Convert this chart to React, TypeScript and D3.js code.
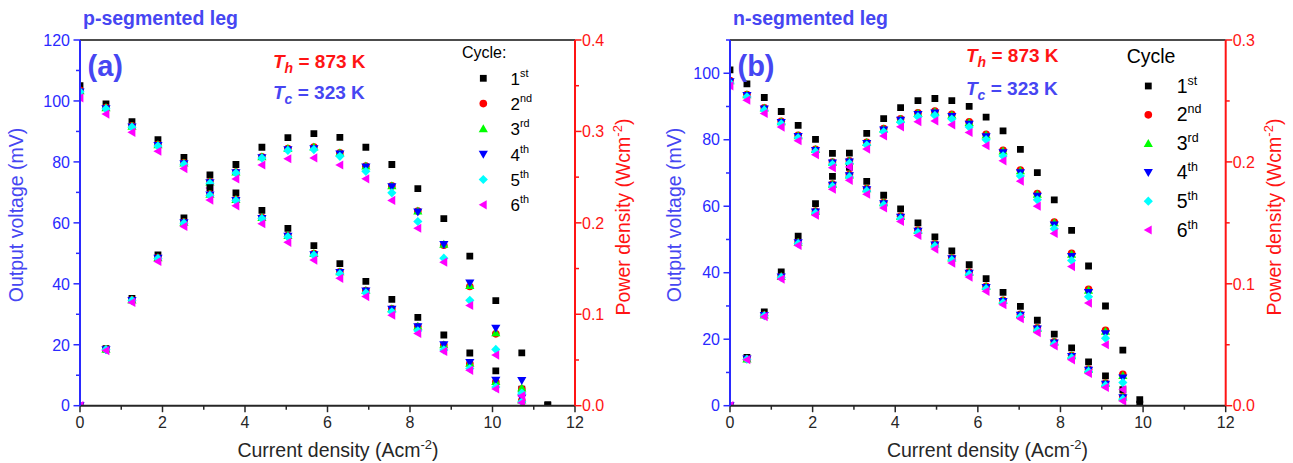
import React from "react";
import * as d3 from "d3";

const FONT = "'Liberation Sans', Arial, Helvetica, sans-serif";

// Legend entries and marker styles for the six thermal cycles
const cycleNumbers = ["1", "2", "3", "4", "5", "6"];
const cycleSuffixes = ["st", "nd", "rd", "th", "th", "th"];
const cycleColors = ["#000000", "#ff0000", "#00ff00", "#0000ff", "#00ffff", "#ff00ff"];
const cycleShapes = ["square", "circle", "triangleUp", "triangleDown", "diamond", "triangleLeft"];

// p-segmented leg: current density (A cm^-2)
const pCurrent = [0, 0.63, 1.26, 1.89, 2.52, 3.15, 3.78, 4.41, 5.04, 5.67, 6.3, 6.93, 7.56, 8.19, 8.82, 9.45, 10.08, 10.71, 11.34];
// output voltage (mV)
const pVoltage1 = [105.0, 99.0, 93.2, 87.3, 81.5, 75.7, 69.8, 64.1, 58.2, 52.5, 46.6, 40.8, 34.9, 29.0, 23.2, 17.3, 11.4, 5.4, 0.1];
const pVoltage2 = [103.5, 97.8, 91.8, 85.7, 79.7, 73.5, 67.6, 61.7, 55.8, 49.9, 43.9, 37.8, 31.8, 26.0, 19.9, 13.8, 7.8, 1.7];
const pVoltage3 = [103.3, 97.7, 91.7, 85.6, 79.6, 73.4, 67.6, 61.7, 55.8, 49.9, 43.9, 37.8, 31.8, 26.0, 20.0, 13.9, 7.9, 1.8];
const pVoltage4 = [103.0, 97.5, 91.5, 85.4, 79.4, 73.2, 67.4, 61.5, 55.6, 49.6, 43.7, 37.7, 31.7, 25.9, 20.0, 14.2, 8.4, 2.6];
const pVoltage5 = [103.0, 97.4, 91.4, 85.2, 79.2, 73.0, 67.3, 61.4, 55.4, 49.4, 43.3, 37.0, 30.8, 24.6, 18.3, 12.2, 6.1, 1.3];
const pVoltage6 = [101.0, 95.7, 89.7, 83.5, 77.8, 71.4, 65.6, 59.7, 53.6, 47.8, 41.8, 35.8, 29.7, 23.7, 17.8, 11.6, 5.5, 1.0];
// power density (W cm^-2)
const pPower1 = [0, 0.0624, 0.1174, 0.165, 0.2054, 0.2385, 0.2638, 0.2827, 0.2933, 0.2977, 0.2936, 0.2827, 0.2638, 0.2375, 0.2046, 0.1635, 0.1149, 0.0578, 0.0011];
const pPower2 = [0, 0.0616, 0.1157, 0.162, 0.2008, 0.2315, 0.2555, 0.2721, 0.2812, 0.2829, 0.2766, 0.262, 0.2404, 0.2129, 0.1755, 0.1304, 0.0786, 0.0182];
const pPower3 = [0, 0.0616, 0.1155, 0.1618, 0.2006, 0.2312, 0.2555, 0.2721, 0.2812, 0.2829, 0.2766, 0.262, 0.2404, 0.2129, 0.1764, 0.1314, 0.0796, 0.0193];
const pPower4 = [0, 0.0614, 0.1153, 0.1614, 0.2001, 0.2306, 0.2548, 0.2712, 0.2802, 0.2812, 0.2753, 0.2613, 0.2397, 0.2121, 0.1764, 0.1342, 0.0847, 0.0278];
const pPower5 = [0, 0.0614, 0.1152, 0.161, 0.1996, 0.23, 0.2544, 0.2708, 0.2792, 0.2801, 0.2728, 0.2564, 0.2328, 0.2015, 0.1614, 0.1153, 0.0615, 0.0139];
const pPower6 = [0, 0.0603, 0.113, 0.1578, 0.1961, 0.2249, 0.248, 0.2633, 0.2701, 0.271, 0.2633, 0.2481, 0.2245, 0.1941, 0.157, 0.1096, 0.0554, 0.0107];

// n-segmented leg: current density (A cm^-2)
const nCurrent = [0, 0.41, 0.83, 1.24, 1.65, 2.07, 2.48, 2.89, 3.31, 3.72, 4.13, 4.55, 4.96, 5.37, 5.79, 6.2, 6.61, 7.03, 7.44, 7.85, 8.27, 8.68, 9.09, 9.51, 9.92];
// output voltage (mV)
const nVoltage1 = [101.0, 96.8, 92.7, 88.5, 84.3, 80.1, 75.9, 71.7, 67.5, 63.3, 59.2, 55.0, 50.8, 46.6, 42.4, 38.2, 34.1, 29.9, 25.7, 21.5, 17.4, 13.2, 9.0, 4.8, 0.5];
const nVoltage2 = [97.8, 93.6, 89.6, 85.5, 81.3, 77.1, 73.3, 69.5, 65.3, 61.1, 57.0, 52.8, 48.7, 44.5, 40.2, 35.9, 31.7, 27.5, 23.4, 19.2, 15.1, 11.0, 6.8, 2.7];
const nVoltage3 = [97.7, 93.5, 89.5, 85.4, 81.2, 77.0, 73.2, 69.4, 65.2, 61.0, 56.9, 52.7, 48.6, 44.4, 40.1, 35.8, 31.6, 27.4, 23.3, 19.1, 15.0, 10.9, 6.7, 2.6];
const nVoltage4 = [97.5, 93.3, 89.3, 85.2, 81.0, 76.8, 73.0, 69.2, 65.0, 60.8, 56.7, 52.5, 48.4, 44.2, 39.9, 35.6, 31.4, 27.2, 23.1, 18.9, 14.8, 10.7, 6.5, 2.4];
const nVoltage5 = [97.1, 92.9, 88.9, 84.8, 80.6, 76.4, 72.6, 68.8, 64.6, 60.4, 56.3, 52.1, 48.0, 43.8, 39.5, 35.2, 31.0, 26.8, 22.7, 18.5, 14.4, 10.3, 6.1, 2.0];
const nVoltage6 = [96.2, 91.9, 87.9, 83.8, 79.7, 75.5, 71.6, 67.8, 63.6, 59.5, 55.4, 51.2, 47.1, 42.9, 38.7, 34.4, 30.4, 26.2, 22.0, 18.0, 13.8, 9.7, 5.5, 1.4];
// power density (W cm^-2)
const nPower1 = [0, 0.0397, 0.0769, 0.1097, 0.1391, 0.1658, 0.1882, 0.2072, 0.2234, 0.2355, 0.2445, 0.2503, 0.252, 0.2502, 0.2455, 0.2368, 0.2254, 0.2102, 0.1912, 0.1688, 0.1439, 0.1146, 0.0818, 0.0456, 0.005];
const nPower2 = [0, 0.0384, 0.0744, 0.106, 0.1341, 0.1596, 0.1818, 0.2009, 0.2161, 0.2273, 0.2354, 0.2402, 0.2416, 0.239, 0.2328, 0.2226, 0.2095, 0.1933, 0.1741, 0.1507, 0.1249, 0.0955, 0.0618, 0.0257];
const nPower3 = [0, 0.0383, 0.0743, 0.1059, 0.134, 0.1594, 0.1815, 0.2006, 0.2158, 0.2269, 0.235, 0.2398, 0.2411, 0.2384, 0.2322, 0.222, 0.2089, 0.1926, 0.1734, 0.1499, 0.1241, 0.0946, 0.0609, 0.0247];
const nPower4 = [0, 0.0383, 0.0741, 0.1056, 0.1337, 0.159, 0.181, 0.2, 0.2152, 0.2262, 0.2342, 0.2389, 0.2401, 0.2374, 0.231, 0.2207, 0.2076, 0.1912, 0.1719, 0.1484, 0.1224, 0.0929, 0.0591, 0.0228];
const nPower5 = [0, 0.0381, 0.0738, 0.1052, 0.133, 0.1581, 0.18, 0.1988, 0.2138, 0.2247, 0.2325, 0.2371, 0.2381, 0.2352, 0.2287, 0.2182, 0.2049, 0.1884, 0.1689, 0.1452, 0.1191, 0.0894, 0.0554, 0.019];
const nPower6 = [0, 0.0377, 0.073, 0.1039, 0.1315, 0.1563, 0.1776, 0.1959, 0.2105, 0.2213, 0.2288, 0.233, 0.2336, 0.2304, 0.2241, 0.2133, 0.2009, 0.1842, 0.1637, 0.1413, 0.1141, 0.0842, 0.05, 0.0133];

// Axis tick values
const currentMajorTicks = [0, 2, 4, 6, 8, 10, 12];
const currentMinorTicks = [1, 3, 5, 7, 9, 11];
const pVoltageMajorTicks = [0, 20, 40, 60, 80, 100, 120];
const pVoltageMinorTicks = [10, 30, 50, 70, 90, 110];
const pPowerMajorTicks = [0, 0.1, 0.2, 0.3, 0.4];
const pPowerMinorTicks = [0.05, 0.15, 0.25, 0.35];
const nVoltageMajorTicks = [0, 20, 40, 60, 80, 100];
const nVoltageMinorTicks = [10, 30, 50, 70, 90, 110];
const nPowerMajorTicks = [0, 0.1, 0.2, 0.3];
const nPowerMinorTicks = [0.05, 0.15, 0.25];

const BLUE_AXIS = "#2a2aff";
const BLUE_TEXT = "#4646f2";
const RED = "#ff1414";
const DARK = "#262626";

const markerPaths: Record<string, string> = {
  square: "M-3.4,-3.4H3.4V3.4H-3.4Z",
  circle: d3.symbol(d3.symbolCircle, 46)() as string,
  triangleUp: "M0,-4.6L4.6,3.4L-4.6,3.4Z",
  triangleDown: "M0,4.6L4.6,-3.4L-4.6,-3.4Z",
  diamond: "M0,-4.6L4.6,0L0,4.6L-4.6,0Z",
  triangleLeft: "M-4.6,0L3.4,-4.6L3.4,4.6Z",
};

type Series = { voltage: number[]; power: number[] };

interface PanelProps {
  id: string;
  left: number;
  right: number;
  top: number;
  bottom: number;
  current: number[];
  series: Series[];
  vMax: number;
  pMax: number;
  vMajor: number[];
  vMinor: number[];
  pMajor: number[];
  pMinor: number[];
  title: string;
  tag: string;
  tempX: number;
  thY: number;
  tcY: number;
  legendTitle: string;
  legendTitleX: number;
  legendTitleY: number;
  legendTitleSize: number;
  legendMarkerX: number;
  legendLabelX: number;
  legendY0: number;
  legendStep: number;
  legendSize: number;
  leftTitleX: number;
  rightTitleX: number;
  xTitleX: number;
}

function Panel(p: PanelProps) {
  const x = d3.scaleLinear().domain([0, 12]).range([p.left, p.right]);
  const yV = d3.scaleLinear().domain([0, p.vMax]).range([p.bottom, p.top]);
  const yP = d3.scaleLinear().domain([0, p.pMax]).range([p.bottom, p.top]);
  const fmtP = d3.format(".1f");
  const midY = 215;

  return (
    <g>
      <defs>
        <clipPath id={p.id}>
          <rect x={p.left} y={p.top} width={p.right - p.left} height={p.bottom - p.top} />
        </clipPath>
      </defs>

      {/* data markers: voltage sets first, then power sets */}
      <g clipPath={`url(#${p.id})`}>
        {p.series.map((s, i) =>
          s.voltage.map((v, j) => (
            <path
              key={`v${i}-${j}`}
              d={markerPaths[cycleShapes[i]]}
              transform={`translate(${x(p.current[j])},${yV(v)})`}
              fill={cycleColors[i]}
            />
          ))
        )}
        {p.series.map((s, i) =>
          s.power.map((w, j) => (
            <path
              key={`p${i}-${j}`}
              d={markerPaths[cycleShapes[i]]}
              transform={`translate(${x(p.current[j])},${yP(w)})`}
              fill={cycleColors[i]}
            />
          ))
        )}
      </g>

      {/* frame top */}
      <line x1={p.left} x2={p.right} y1={p.top} y2={p.top} stroke="#111" strokeWidth={1.5} />

      {/* bottom axis */}
      <line x1={p.left} x2={p.right} y1={p.bottom} y2={p.bottom} stroke={DARK} strokeWidth={2} />
      {currentMajorTicks.map((t) => (
        <g key={`xm${t}`}>
          <line x1={x(t)} x2={x(t)} y1={p.bottom} y2={p.bottom + 6.5} stroke={DARK} strokeWidth={1.5} />
          <text x={x(t)} y={p.bottom + 22} textAnchor="middle" fontSize={16} fill={DARK}>
            {t}
          </text>
        </g>
      ))}
      {currentMinorTicks.map((t) => (
        <line key={`xn${t}`} x1={x(t)} x2={x(t)} y1={p.bottom} y2={p.bottom + 4} stroke={DARK} strokeWidth={1.5} />
      ))}

      {/* left axis */}
      <line x1={p.left} x2={p.left} y1={p.top} y2={p.bottom} stroke={BLUE_AXIS} strokeWidth={2} />
      {p.vMajor.map((t) => (
        <g key={`vm${t}`}>
          <line x1={p.left - 6.5} x2={p.left} y1={yV(t)} y2={yV(t)} stroke={BLUE_AXIS} strokeWidth={1.5} />
          <text x={p.left - 10} y={yV(t)} dy="0.36em" textAnchor="end" fontSize={16} fill={BLUE_AXIS}>
            {t}
          </text>
        </g>
      ))}
      {p.vMinor.map((t) => (
        <line key={`vn${t}`} x1={p.left - 4} x2={p.left} y1={yV(t)} y2={yV(t)} stroke={BLUE_AXIS} strokeWidth={1.5} />
      ))}

      {/* right axis */}
      <line x1={p.right} x2={p.right} y1={p.top} y2={p.bottom} stroke={RED} strokeWidth={2} />
      {p.pMajor.map((t) => (
        <g key={`pm${t}`}>
          <line x1={p.right} x2={p.right + 6.5} y1={yP(t)} y2={yP(t)} stroke={RED} strokeWidth={1.5} />
          <text x={p.right + 7} y={yP(t)} dy="0.36em" textAnchor="start" fontSize={16} fill={RED}>
            {fmtP(t)}
          </text>
        </g>
      ))}
      {p.pMinor.map((t) => (
        <line key={`pn${t}`} x1={p.right} x2={p.right + 4} y1={yP(t)} y2={yP(t)} stroke={RED} strokeWidth={1.5} />
      ))}

      {/* axis titles */}
      <text
        transform={`translate(${p.leftTitleX},${midY}) rotate(-90)`}
        textAnchor="middle"
        fontSize={19.5}
        fill={BLUE_TEXT}
      >
        Output voltage (mV)
      </text>
      <text
        transform={`translate(${p.rightTitleX},${midY + 2}) rotate(-90)`}
        textAnchor="middle"
        fontSize={19.5}
        fill={RED}
      >
        Power density (Wcm
        <tspan dy={-8} fontSize={13}>
          -2
        </tspan>
        <tspan dy={8}>)</tspan>
      </text>
      <text x={p.xTitleX} y={457} textAnchor="middle" fontSize={19.5} fill={DARK}>
        Current density (Acm
        <tspan dy={-8} fontSize={13}>
          -2
        </tspan>
        <tspan dy={8}>)</tspan>
      </text>

      {/* panel heading and tag */}
      <text x={p.left + 3} y={25} fontSize={19.5} fontWeight="bold" fill={BLUE_TEXT}>
        {p.title}
      </text>
      <text x={p.left + 7.5} y={76} fontSize={29} fontWeight="bold" fill={BLUE_TEXT}>
        {p.tag}
      </text>

      {/* temperatures */}
      <text x={p.tempX} y={p.thY} fontSize={19} fontWeight="bold" fill={RED}>
        <tspan fontStyle="italic">T</tspan>
        <tspan fontStyle="italic" fontSize={14} dy={5}>
          h
        </tspan>
        <tspan dy={-5}> = 873 K</tspan>
      </text>
      <text x={p.tempX} y={p.tcY} fontSize={19} fontWeight="bold" fill={BLUE_TEXT}>
        <tspan fontStyle="italic">T</tspan>
        <tspan fontStyle="italic" fontSize={14} dy={5}>
          c
        </tspan>
        <tspan dy={-5}> = 323 K</tspan>
      </text>

      {/* legend */}
      <text x={p.legendTitleX} y={p.legendTitleY} fontSize={p.legendTitleSize} fill="#000">
        {p.legendTitle}
      </text>
      {cycleNumbers.map((n, i) => {
        const cy = p.legendY0 + i * p.legendStep;
        return (
          <g key={`lg${i}`}>
            <path d={markerPaths[cycleShapes[i]]} transform={`translate(${p.legendMarkerX},${cy})`} fill={cycleColors[i]} />
            <text x={p.legendLabelX} y={cy + 6.5} fontSize={p.legendSize} fill="#000">
              {n}
              <tspan dy={-8} fontSize={p.legendSize * 0.64}>
                {cycleSuffixes[i]}
              </tspan>
            </text>
          </g>
        );
      })}
    </g>
  );
}

const pSeries: Series[] = [
  { voltage: pVoltage1, power: pPower1 },
  { voltage: pVoltage2, power: pPower2 },
  { voltage: pVoltage3, power: pPower3 },
  { voltage: pVoltage4, power: pPower4 },
  { voltage: pVoltage5, power: pPower5 },
  { voltage: pVoltage6, power: pPower6 },
];

const nSeries: Series[] = [
  { voltage: nVoltage1, power: nPower1 },
  { voltage: nVoltage2, power: nPower2 },
  { voltage: nVoltage3, power: nPower3 },
  { voltage: nVoltage4, power: nPower4 },
  { voltage: nVoltage5, power: nPower5 },
  { voltage: nVoltage6, power: nPower6 },
];

export default function App() {
  return (
    <svg
      width={1293}
      height={463}
      style={{ position: "absolute", left: 0, top: 0, background: "#fff", fontFamily: FONT }}
    >
      <rect width={1293} height={463} fill="#fff" />
      <Panel
        id="clip-p"
        left={80}
        right={575}
        top={40}
        bottom={405.7}
        current={pCurrent}
        series={pSeries}
        vMax={120}
        pMax={0.4}
        vMajor={pVoltageMajorTicks}
        vMinor={pVoltageMinorTicks}
        pMajor={pPowerMajorTicks}
        pMinor={pPowerMinorTicks}
        title="p-segmented leg"
        tag="(a)"
        tempX={273}
        thY={68}
        tcY={99}
        legendTitle="Cycle:"
        legendTitleX={462}
        legendTitleY={58}
        legendTitleSize={16}
        legendMarkerX={483.3}
        legendLabelX={510.5}
        legendY0={78.3}
        legendStep={25.3}
        legendSize={17}
        leftTitleX={23}
        rightTitleX={630}
        xTitleX={338}
      />
      <Panel
        id="clip-n"
        left={730}
        right={1225.7}
        top={40}
        bottom={405.7}
        current={nCurrent}
        series={nSeries}
        vMax={110}
        pMax={0.3}
        vMajor={nVoltageMajorTicks}
        vMinor={nVoltageMinorTicks}
        pMajor={nPowerMajorTicks}
        pMinor={nPowerMinorTicks}
        title="n-segmented leg"
        tag="(b)"
        tempX={966}
        thY={62}
        tcY={95}
        legendTitle="Cycle"
        legendTitleX={1126.7}
        legendTitleY={63}
        legendTitleSize={19.5}
        legendMarkerX={1148.3}
        legendLabelX={1176.7}
        legendY0={86}
        legendStep={28.8}
        legendSize={19.5}
        leftTitleX={681}
        rightTitleX={1281}
        xTitleX={987.5}
      />
    </svg>
  );
}
